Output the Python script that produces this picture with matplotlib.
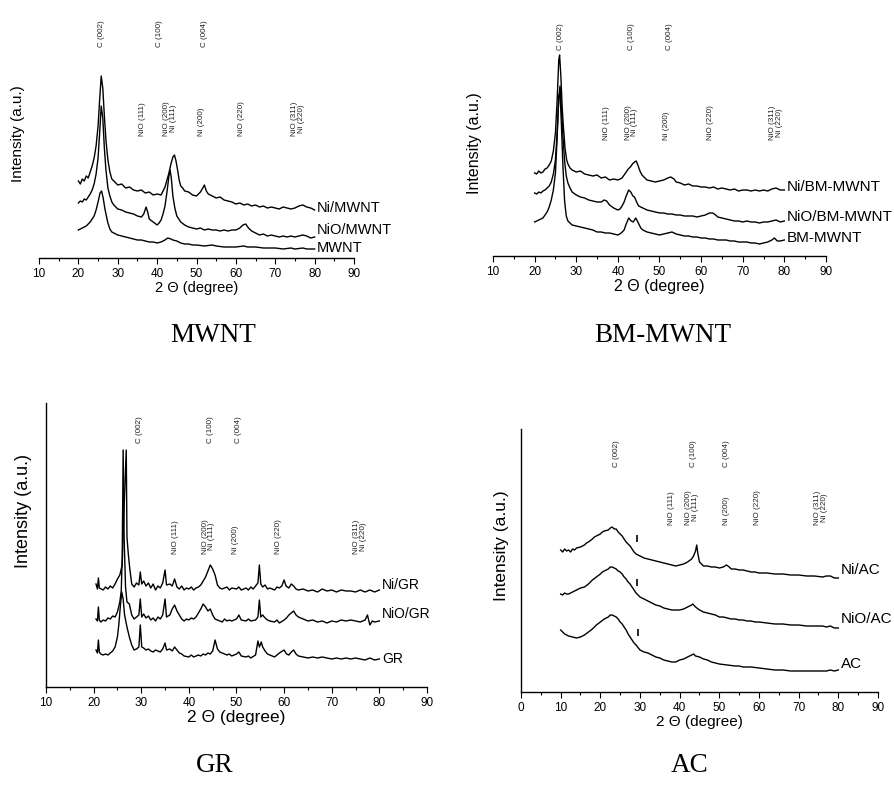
import numpy as np
import matplotlib
matplotlib.use('Agg')
import matplotlib.pyplot as plt
from matplotlib.ticker import MultipleLocator

plt.rcParams['font.family'] = ['Liberation Sans', 'DejaVu Sans']

# ---- data: (2theta, intensity a.u.) ----
# MWNT panel
ni_mwnt = [(20,77),(20.5,74),(21,79),(21.5,77),(22,82),(22.5,80),(23,86),(23.5,92),(24,100),(24.5,112),(25,132),(25.4,158),(25.8,182),(26.2,170),(26.6,142),(27,118),(27.5,98),(28,86),(28.5,79),(29,77),(29.5,75),(30,73),(31,74),(32,70),(33,71),(34,68),(35,67),(36,68),(37,65),(38,66),(39,63),(40,64),(41,63),(41.5,67),(42,71),(42.5,78),(43,85),(43.5,94),(44,101),(44.4,103),(44.8,97),(45.2,88),(45.6,78),(46,72),(46.5,70),(47,67),(48,66),(49,63),(50,62),(50.5,64),(51,66),(51.6,70),(52,73),(52.5,67),(53,64),(54,62),(55,60),(56,61),(57,58),(58,57),(59,56),(60,54),(61,55),(62,53),(63,54),(64,52),(65,53),(66,51),(67,52),(68,50),(69,51),(70,50),(71,49),(72,51),(73,50),(74,49),(75,50),(76,52),(77,53),(78,51),(79,50),(80,48)]
nio_mwnt = [(20,55),(20.5,57),(21,56),(21.5,59),(22,58),(22.5,61),(23,64),(23.5,68),(24,74),(24.5,84),(25,100),(25.4,125),(25.8,152),(26.2,140),(26.6,110),(27,88),(27.5,70),(28,62),(28.5,56),(29,53),(30,49),(31,48),(32,46),(33,45),(34,44),(35,42),(36,41),(36.6,44),(37.2,51),(37.6,46),(38,39),(39,36),(40,33),(40.5,35),(41,38),(41.5,44),(42,52),(42.5,66),(43,82),(43.3,88),(43.6,80),(44,62),(44.5,50),(45,42),(46,36),(47,33),(48,31),(49,30),(50,29),(51,30),(52,28),(53,29),(54,28),(55,28),(56,27),(57,28),(58,27),(59,28),(60,28),(61,30),(61.8,33),(62.5,34),(63.2,30),(64,27),(65,25),(66,23),(67,24),(68,22),(69,23),(70,22),(71,21),(72,22),(73,21),(74,22),(75,21),(76,22),(77,23),(78,22),(79,20),(80,21)]
mwnt = [(20,28),(20.5,29),(21,30),(21.5,31),(22,32),(22.5,34),(23,36),(23.5,39),(24,42),(24.5,48),(25,56),(25.5,65),(25.9,67),(26.3,60),(26.7,50),(27,44),(27.5,35),(28,29),(28.5,26),(29,25),(30,23),(31,22),(32,21),(33,20),(34,19),(35,18),(36,18),(37,17),(38,16),(39,16),(40,15),(41,16),(42,18),(42.7,20),(43.5,19),(44,18),(45,17),(46,15),(47,14),(48,14),(49,13),(50,13),(52,12),(54,13),(55,12),(57,11),(60,11),(62,12),(63,11),(65,11),(67,10),(70,10),(72,9),(74,10),(75,9),(77,10),(78,9),(80,9)]

# BM-MWNT panel
ni_bm = [(20,83),(20.5,82),(21,85),(21.5,83),(22,84),(22.5,87),(23,88),(23.5,91),(24,95),(24.5,105),(25,123),(25.4,155),(25.8,196),(26,201),(26.3,180),(26.6,150),(26.9,130),(27.3,108),(27.7,96),(28,92),(28.5,88),(29,86),(30,84),(31,85),(32,82),(33,81),(34,80),(35,81),(36,78),(37,79),(38,76),(39,77),(40,76),(41,78),(41.5,81),(42,84),(42.5,87),(43,89),(43.5,92),(44,94),(44.4,95),(44.8,91),(45.3,85),(45.8,81),(46.5,78),(47,76),(48,75),(49,74),(50,75),(51,76),(52,78),(52.7,79),(53.5,77),(54,74),(55,73),(56,71),(57,72),(58,70),(59,70),(60,69),(61,69),(62,68),(63,69),(64,67),(65,68),(66,67),(67,66),(68,67),(69,65),(70,66),(71,66),(72,65),(73,66),(74,65),(75,66),(76,65),(77,67),(78,68),(79,66),(80,66)]
nio_bm = [(20,63),(20.5,62),(21,64),(21.5,63),(22,65),(22.5,66),(23,68),(23.5,70),(24,74),(24.5,82),(25,96),(25.4,122),(25.8,158),(26.1,170),(26.4,150),(26.8,120),(27.2,95),(27.6,80),(28,73),(28.5,68),(29,64),(30,61),(31,59),(32,58),(33,56),(34,55),(35,54),(36,54),(36.7,56),(37.3,55),(38,51),(39,48),(40,46),(40.5,47),(41,50),(41.5,54),(42,60),(42.6,66),(43.1,64),(43.6,60),(44,59),(44.5,54),(45,50),(46,48),(47,46),(48,45),(49,44),(50,43),(51,43),(52,42),(53,42),(54,41),(55,41),(56,40),(57,40),(58,40),(59,39),(60,40),(61,41),(62,43),(62.8,43),(63.5,41),(64,39),(65,38),(66,37),(67,36),(68,35),(69,35),(70,34),(71,35),(72,34),(73,34),(74,33),(75,34),(76,34),(77,35),(78,36),(79,34),(80,35)]
bm = [(20,34),(20.5,35),(21,36),(21.5,37),(22,38),(22.5,41),(23,44),(23.5,49),(24,56),(24.5,66),(25,83),(25.4,118),(25.8,160),(26.1,163),(26.4,135),(26.8,90),(27.2,55),(27.6,40),(28,35),(28.5,33),(29,31),(30,30),(31,29),(32,28),(33,27),(34,26),(35,24),(36,24),(37,23),(38,23),(39,22),(40,21),(40.8,23),(41.5,26),(42,32),(42.6,38),(43.2,35),(43.7,34),(44.3,38),(44.8,34),(45.5,28),(46,26),(47,24),(48,23),(49,22),(50,21),(51,22),(52,23),(53,24),(54,22),(55,21),(56,20),(57,20),(58,19),(59,19),(60,18),(61,18),(62,17),(63,17),(64,16),(65,16),(66,16),(67,15),(68,15),(69,14),(70,14),(71,14),(72,13),(73,13),(74,12),(75,13),(76,14),(77,16),(77.6,18),(78.3,15),(79,15),(80,16)]

# GR panel
ni_gr = [(20.5,103),(20.8,98),(21,109),(21.2,99),(22,97),(22.5,100),(23,98),(23.5,101),(24,99),(24.5,103),(25,108),(25.5,112),(26,122),(26.4,180),(26.85,237),(27,150),(27.3,132),(27.6,118),(28,103),(28.5,100),(29,104),(29.5,102),(29.8,115),(30.1,103),(30.5,106),(31,101),(31.5,104),(32,99),(32.5,103),(33,97),(33.5,101),(34,99),(34.5,104),(35,117),(35.3,102),(36,103),(36.5,101),(37,108),(37.5,100),(38,98),(38.5,101),(39,97),(39.5,99),(40,98),(40.5,100),(41,97),(41.5,99),(42,100),(42.5,102),(43,106),(43.5,110),(44,116),(44.5,122),(45,118),(45.5,112),(46,102),(46.5,99),(47,98),(48,100),(48.5,97),(49,99),(50,98),(50.5,100),(51,97),(52,99),(52.5,97),(53,100),(53.5,98),(54,101),(54.5,104),(54.8,122),(55.1,103),(55.5,100),(56,102),(56.5,98),(57,99),(58,97),(58.5,100),(59,99),(59.5,101),(60,107),(60.4,101),(61,99),(61.5,103),(62,101),(62.5,98),(63,97),(64,98),(65,96),(66,97),(67,95),(68,98),(69,96),(70,97),(71,95),(72,97),(73,96),(74,96),(75,95),(76,97),(77,95),(78,97),(79,95),(80,97)]
nio_gr = [(20.5,68),(20.8,66),(21,80),(21.2,67),(21.5,65),(22,67),(22.5,66),(23,69),(23.5,68),(24,71),(24.5,70),(25,75),(25.5,85),(25.8,96),(26,130),(26.2,237),(26.4,150),(26.7,100),(27,85),(27.5,83),(28,72),(28.5,68),(29,70),(29.5,72),(29.8,88),(30.1,70),(30.5,73),(31,69),(31.5,71),(32,67),(32.5,69),(33,66),(33.5,70),(34,68),(34.5,72),(35,88),(35.3,70),(36,72),(36.5,78),(37,82),(37.5,76),(38,72),(38.5,68),(39,66),(39.5,68),(40,67),(40.5,69),(41,68),(41.5,70),(42,74),(42.5,78),(43,83),(43.5,80),(44,76),(44.5,78),(45,72),(45.5,68),(46,67),(47,65),(47.5,68),(48,66),(48.5,67),(49,66),(50,68),(50.5,72),(51,67),(52,66),(52.5,68),(53,66),(54,67),(54.5,70),(54.8,87),(55.1,70),(55.5,72),(56,69),(56.5,67),(57,66),(58,65),(58.5,67),(59,64),(60,67),(60.5,69),(61,72),(61.5,74),(62,76),(62.5,72),(63,70),(64,68),(65,66),(66,67),(67,65),(68,66),(69,64),(70,66),(71,65),(72,67),(73,66),(74,67),(75,66),(76,65),(77,67),(77.5,72),(78,62),(78.5,66),(79,65),(80,66)]
gr = [(20.5,37),(20.8,34),(21,47),(21.2,35),(21.5,33),(22,32),(22.5,33),(23,32),(23.5,34),(24,36),(24.5,40),(25,50),(25.3,63),(25.6,80),(25.9,95),(26.2,88),(26.5,72),(27,60),(27.5,50),(28,42),(28.5,37),(29,38),(29.5,40),(29.8,62),(30.1,40),(30.5,39),(31,37),(31.5,38),(32,36),(32.5,35),(33,37),(33.5,36),(34,35),(34.5,38),(35,44),(35.3,37),(36,38),(36.5,36),(37,40),(37.5,37),(38,34),(38.5,33),(39,31),(40,30),(40.5,32),(41,30),(41.5,31),(42,32),(42.5,31),(43,33),(43.5,32),(44,34),(44.5,33),(45,36),(45.5,47),(46,38),(46.5,35),(47,34),(48,32),(48.5,33),(49,31),(50,33),(50.5,35),(51,31),(52,30),(52.5,31),(53,29),(54,32),(54.5,46),(54.8,40),(55.2,45),(55.5,40),(56,36),(56.5,33),(57,32),(58,30),(58.5,32),(59,34),(60,37),(60.5,33),(61,32),(61.5,35),(62,37),(62.5,33),(63,31),(64,30),(65,29),(66,30),(67,29),(68,30),(69,29),(70,28),(71,29),(72,28),(73,29),(74,28),(75,29),(76,28),(77,27),(78,29),(79,27),(80,28)]

# AC panel
ni_ac = [(10,142),(10.5,140),(11,143),(11.5,141),(12,142),(12.5,140),(13,143),(13.5,142),(14,144),(15,145),(16,147),(16.5,149),(17,150),(18,153),(18.5,155),(19,156),(20,158),(20.5,160),(21,161),(22,162),(22.5,164),(23,165),(23.5,163),(24,163),(24.5,160),(25,158),(25.5,156),(26,153),(26.5,150),(27,148),(27.5,146),(28,143),(28.5,140),(29,138),(30,136),(31,134),(32,133),(33,132),(34,131),(35,130),(36,129),(37,128),(38,127),(39,126),(40,127),(41,128),(42,130),(43,133),(43.5,136),(44,141),(44.3,147),(44.6,138),(45,130),(45.5,128),(46,126),(47,126),(48,125),(49,125),(50,124),(51,125),(51.8,127),(52.5,125),(53,123),(54,123),(55,122),(56,122),(57,121),(58,120),(59,120),(60,119),(62,119),(64,118),(66,118),(68,117),(70,117),(72,116),(74,116),(76,115),(77,116),(78,116),(79,114),(80,114)]
nio_ac = [(10,98),(10.5,97),(11,99),(11.5,98),(12,98),(12.5,99),(13,100),(14,102),(15,104),(16,105),(17,108),(18,112),(19,115),(20,118),(20.5,120),(21,121),(22,123),(22.5,125),(23,125),(23.5,124),(24,123),(24.5,121),(25,120),(25.5,118),(26,115),(26.5,113),(27,110),(27.5,108),(28,105),(28.5,102),(29,99),(30,95),(31,93),(32,91),(33,89),(34,87),(35,86),(36,84),(37,83),(38,82),(39,82),(40,82),(41,83),(42,85),(43,87),(43.3,88),(44,85),(45,82),(46,80),(47,79),(48,78),(49,77),(50,75),(51,75),(52,74),(53,73),(54,73),(55,72),(56,72),(57,71),(58,71),(59,70),(60,70),(62,69),(64,68),(66,68),(68,67),(70,67),(72,66),(74,66),(76,66),(77,65),(78,66),(79,64),(80,64)]
ac = [(10,62),(10.5,60),(11,58),(12,56),(13,55),(14,54),(15,55),(16,57),(17,60),(18,63),(19,67),(20,70),(21,73),(22,75),(22.5,77),(23,77),(23.5,76),(24,75),(24.5,73),(25,70),(25.5,68),(26,65),(26.5,62),(27,58),(27.5,55),(28,52),(28.5,49),(29,47),(30,42),(31,40),(32,39),(33,37),(34,35),(35,34),(36,32),(37,31),(38,30),(39,30),(40,32),(41,33),(42,35),(43,37),(43.5,38),(44,36),(45,35),(46,33),(47,32),(48,30),(49,29),(50,28),(52,27),(54,26),(55,26),(56,25),(58,25),(60,24),(62,23),(64,22),(66,22),(68,21),(70,21),(72,21),(74,21),(76,21),(77,21),(78,22),(79,21),(80,22)]
# short detached marks near 29.4 deg on the AC traces: (2theta, low, high)
ac_marks = [(29.3, 150, 157), (29.3, 106, 113), (29.5, 56, 63)]

carbon_peaks = ['C (002)', 'C (100)', 'C (004)']
ni_peaks = ['NiO (111)', 'NiO (200)\nNi (111)', 'Ni (200)', 'NiO (220)', 'NiO (311)\nNi (220)']

# panel layout: rect, xlim, ylim, curves+names, peak label x / base height, caption
panels = [
    dict(rect=[39/895, 1-258/789, 315/895, 253/789], xlim=(10, 90), ylim=(0, 253), spine=False,
         curves=[(ni_mwnt, 'Ni/MWNT', 50), (nio_mwnt, 'NiO/MWNT', 28), (mwnt, 'MWNT', 10)],
         cx=[25.9, 40.7, 52.1], cy=211, nx=[36.3, 43.3, 51.3, 61.4, 75.8], ny=122,
         lab=10.5, ylab=11, ylc=(-0.044, 0.49), xlab=10.5, cap='MWNT', capxy=(213, 335)),
    dict(rect=[493/895, 1-256/789, 333/895, 251/789], xlim=(10, 90), ylim=(0, 251), spine=False,
         curves=[(ni_bm, 'Ni/BM-MWNT', 69), (nio_bm, 'NiO/BM-MWNT', 39), (bm, 'BM-MWNT', 18)],
         cx=[26.2, 43.3, 52.5], cy=206, nx=[37.3, 43.3, 51.7, 62.2, 78.0], ny=116,
         lab=11, ylab=11.5, ylc=(-0.033, 0.45), xlab=11.5, cap='BM-MWNT', capxy=(663, 335)),
    dict(rect=[46/895, 1-687/789, 381/895, 284/789], xlim=(10, 90), ylim=(0, 284), spine=True,
         curves=[(ni_gr, 'Ni/GR', 102), (nio_gr, 'NiO/GR', 73), (gr, 'GR', 28)],
         cx=[29.7, 44.5, 50.4], cy=244, nx=[37.1, 44.1, 49.7, 58.8, 75.9], ny=133,
         lab=10, ylab=13, ylc=(-0.037, 0.62), xlab=12.5, cap='GR', capxy=(215, 765)),
    dict(rect=[521/895, 1-692/789, 357/895, 263/789], xlim=(0, 90), ylim=(0, 263), spine=True,
         curves=[(ni_ac, 'Ni/AC', 122), (nio_ac, 'NiO/AC', 73), (ac, 'AC', 28)],
         cx=[24.1, 43.4, 51.9], cy=225, nx=[38.0, 43.2, 51.9, 59.5, 75.6], ny=167,
         lab=11, ylab=12.5, ylc=(-0.034, 0.555), xlab=11, cap='AC', capxy=(690, 765)),
]

fig = plt.figure(figsize=(8.95, 7.89), dpi=100)

for i, p in enumerate(panels):
    ax = fig.add_axes(p['rect'])
    for data, name, ly in p['curves']:
        x, y = np.array(data).T
        ax.plot(x, y, color='black', lw=1.0)
        ax.text(80.6, ly, name, fontsize=p['lab'], va='center', ha='left', clip_on=False)
    if i == 3:
        mx, lo, hi = np.array(ac_marks).T
        ax.vlines(mx, lo, hi, color='black', lw=1.2)
    for t, xx in zip(carbon_peaks, p['cx']):
        ax.text(xx, p['cy'], t, rotation=90, fontsize=5.8, ha='center', va='bottom', color='#222222')
    for t, xx in zip(ni_peaks, p['nx']):
        ax.text(xx, p['ny'], t, rotation=90, fontsize=5.8, ha='center', va='bottom',
                linespacing=0.95, color='#222222')
    ax.set_xlim(*p['xlim'])
    ax.set_ylim(*p['ylim'])
    ax.xaxis.set_major_locator(MultipleLocator(10))
    ax.xaxis.set_minor_locator(MultipleLocator(5))
    ax.tick_params(axis='x', which='major', direction='out', length=4, width=0.8, labelsize=8.5, pad=3)
    ax.tick_params(axis='x', which='minor', direction='out', length=2.5, width=0.8)
    ax.set_yticks([])
    for s in ['top', 'right']:
        ax.spines[s].set_visible(False)
    ax.spines['left'].set_visible(p['spine'])
    ax.spines['bottom'].set_linewidth(1.0)
    ax.spines['left'].set_linewidth(1.0)
    ax.set_xlabel('2 \u0398 (degree)', fontsize=p['xlab'], labelpad=1)
    ax.set_ylabel('Intensity (a.u.)', fontsize=p['ylab'])
    ax.yaxis.set_label_coords(*p['ylc'])
    ax.patch.set_visible(False)
    fig.text(p['capxy'][0]/895, 1-p['capxy'][1]/789, p['cap'], ha='center', va='center',
             fontsize=19.5, family='Liberation Serif')

fig.savefig('out.png', dpi=100)
